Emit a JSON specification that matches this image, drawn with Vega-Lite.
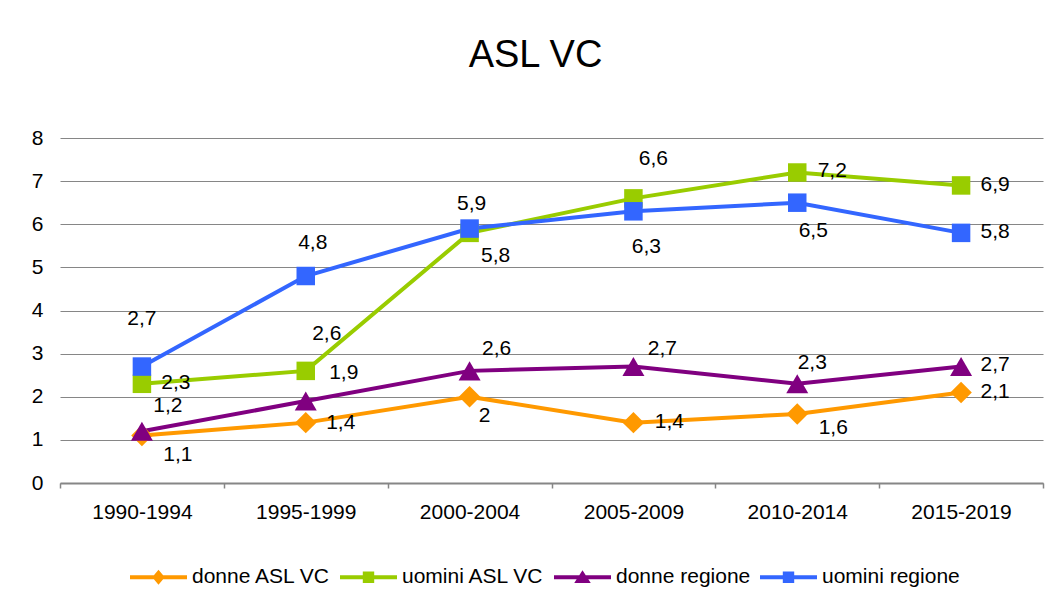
{
  "$schema": "https://vega.github.io/schema/vega-lite/v6.json",
  "width": 983,
  "height": 345,
  "autosize": {"type": "none"},
  "padding": {"left": 60, "top": 138, "right": 12, "bottom": 115},
  "background": "white",
  "title": {
    "text": "ASL VC",
    "font": "Liberation Sans",
    "fontSize": 38,
    "fontWeight": "normal",
    "color": "black",
    "anchor": "middle",
    "dx": -16,
    "baseline": "alphabetic",
    "offset": 22
  },
  "data": {
    "values": [
      {"periodo": "1990-1994", "serie": "donne ASL VC", "valore": 1.1},
      {"periodo": "1995-1999", "serie": "donne ASL VC", "valore": 1.4},
      {"periodo": "2000-2004", "serie": "donne ASL VC", "valore": 2},
      {"periodo": "2005-2009", "serie": "donne ASL VC", "valore": 1.4},
      {"periodo": "2010-2014", "serie": "donne ASL VC", "valore": 1.6},
      {"periodo": "2015-2019", "serie": "donne ASL VC", "valore": 2.1},
      {"periodo": "1990-1994", "serie": "uomini ASL VC", "valore": 2.3},
      {"periodo": "1995-1999", "serie": "uomini ASL VC", "valore": 2.6},
      {"periodo": "2000-2004", "serie": "uomini ASL VC", "valore": 5.8},
      {"periodo": "2005-2009", "serie": "uomini ASL VC", "valore": 6.6},
      {"periodo": "2010-2014", "serie": "uomini ASL VC", "valore": 7.2},
      {"periodo": "2015-2019", "serie": "uomini ASL VC", "valore": 6.9},
      {"periodo": "1990-1994", "serie": "donne regione", "valore": 1.2},
      {"periodo": "1995-1999", "serie": "donne regione", "valore": 1.9},
      {"periodo": "2000-2004", "serie": "donne regione", "valore": 2.6},
      {"periodo": "2005-2009", "serie": "donne regione", "valore": 2.7},
      {"periodo": "2010-2014", "serie": "donne regione", "valore": 2.3},
      {"periodo": "2015-2019", "serie": "donne regione", "valore": 2.7},
      {"periodo": "1990-1994", "serie": "uomini regione", "valore": 2.7},
      {"periodo": "1995-1999", "serie": "uomini regione", "valore": 4.8},
      {"periodo": "2000-2004", "serie": "uomini regione", "valore": 5.9},
      {"periodo": "2005-2009", "serie": "uomini regione", "valore": 6.3},
      {"periodo": "2010-2014", "serie": "uomini regione", "valore": 6.5},
      {"periodo": "2015-2019", "serie": "uomini regione", "valore": 5.8}
    ]
  },
  "encoding": {
    "x": {
      "field": "periodo",
      "type": "nominal",
      "sort": null,
      "scale": {"type": "band", "paddingInner": 0, "paddingOuter": 0},
      "axis": {
        "title": null,
        "labelAngle": 0,
        "tickBand": "extent",
        "grid": false,
        "domainColor": "#868686",
        "domainWidth": 2,
        "tickColor": "#868686",
        "tickWidth": 1.5,
        "tickSize": 5,
        "labelFont": "Liberation Sans",
        "labelFontSize": 21,
        "labelColor": "black",
        "labelPadding": 13
      }
    },
    "y": {
      "field": "valore",
      "type": "quantitative",
      "scale": {"domain": [0, 8], "nice": false, "zero": true},
      "axis": {
        "title": null,
        "values": [0, 1, 2, 3, 4, 5, 6, 7, 8],
        "domain": false,
        "ticks": false,
        "grid": true,
        "gridColor": "#868686",
        "gridWidth": 1,
        "labelFont": "Liberation Sans",
        "labelFontSize": 21,
        "labelColor": "black",
        "labelPadding": 17
      }
    },
    "color": {
      "field": "serie",
      "type": "nominal",
      "sort": null,
      "scale": {
        "domain": ["donne ASL VC", "uomini ASL VC", "donne regione", "uomini regione"],
        "range": ["#FF9900", "#99CC00", "#800080", "#3366FF"]
      },
      "legend": {
        "title": null,
        "orient": "none",
        "direction": "horizontal",
        "legendX": 70,
        "legendY": 410.5,
        "padding": 0,
        "symbolSize": 3249,
        "symbolStrokeWidth": 0,
        "symbolOpacity": 1,
        "labelFont": "Liberation Sans",
        "labelFontSize": 21,
        "labelColor": "black",
        "labelOffset": 5,
        "columnPadding": 9
      }
    }
  },
  "layer": [
    {"mark": {"type": "line", "strokeWidth": 4}},
    {
      "transform": [{"filter": "false"}],
      "mark": {"type": "point", "filled": true, "opacity": 1, "strokeWidth": 0},
      "encoding": {
        "shape": {
          "field": "serie",
          "type": "nominal",
          "sort": null,
          "scale": {
            "domain": ["donne ASL VC", "uomini ASL VC", "donne regione", "uomini regione"],
            "range": [
              "M-1,-0.07H1V0.07H-1ZM0,-0.26L0.22,0L0,0.26L-0.22,0Z",
              "M-1,-0.07H1V0.07H-1ZM-0.2,-0.2H0.2V0.2H-0.2Z",
              "M-1,-0.07H1V0.07H-1ZM0,-0.25L0.29,0.2H-0.29Z",
              "M-1,-0.07H1V0.07H-1ZM-0.2,-0.2H0.2V0.2H-0.2Z"
            ]
          },
          "legend": {}
        }
      }
    },
    {
      "transform": [{"filter": "datum.serie === 'donne ASL VC'"}],
      "mark": {"type": "point", "shape": "diamond", "filled": true, "opacity": 1, "strokeWidth": 0, "size": 462}
    },
    {
      "transform": [{"filter": "datum.serie === 'donne regione'"}],
      "mark": {"type": "point", "shape": "triangle-up", "filled": true, "opacity": 1, "strokeWidth": 0, "size": 484}
    },
    {
      "transform": [{"filter": "datum.serie === 'uomini ASL VC' || datum.serie === 'uomini regione'"}],
      "mark": {"type": "point", "shape": "square", "filled": true, "opacity": 1, "strokeWidth": 0, "size": 342}
    },
    {
      "mark": {
        "type": "text",
        "font": "Liberation Sans",
        "fontSize": 21,
        "align": "center",
        "baseline": "middle",
        "dx": {"expr": "[[36,35,15,36,36,34],[34,21,26,20,35,34],[26,38,27,29,15,34],[0,7,2,13,16,34]][indexof(['donne ASL VC','uomini ASL VC','donne regione','uomini regione'], datum.serie)][indexof(['1990-1994','1995-1999','2000-2004','2005-2009','2010-2014','2015-2019'], datum.periodo)]"},
        "dy": {"expr": "[[19,0,19,-1,14,0],[-1,-37,23,-39,-2,0],[-25,-28,-22,-18,-21,-2],[-48,-33,-25,36,28,-1]][indexof(['donne ASL VC','uomini ASL VC','donne regione','uomini regione'], datum.serie)][indexof(['1990-1994','1995-1999','2000-2004','2005-2009','2010-2014','2015-2019'], datum.periodo)]"}
      },
      "encoding": {
        "text": {"field": "valore", "type": "quantitative", "format": "~g"},
        "color": {"value": "black"}
      }
    }
  ],
  "config": {
    "locale": {
      "number": {"decimal": ",", "thousands": ".", "grouping": [3], "currency": ["", " €"]}
    },
    "view": {"stroke": null}
  }
}
